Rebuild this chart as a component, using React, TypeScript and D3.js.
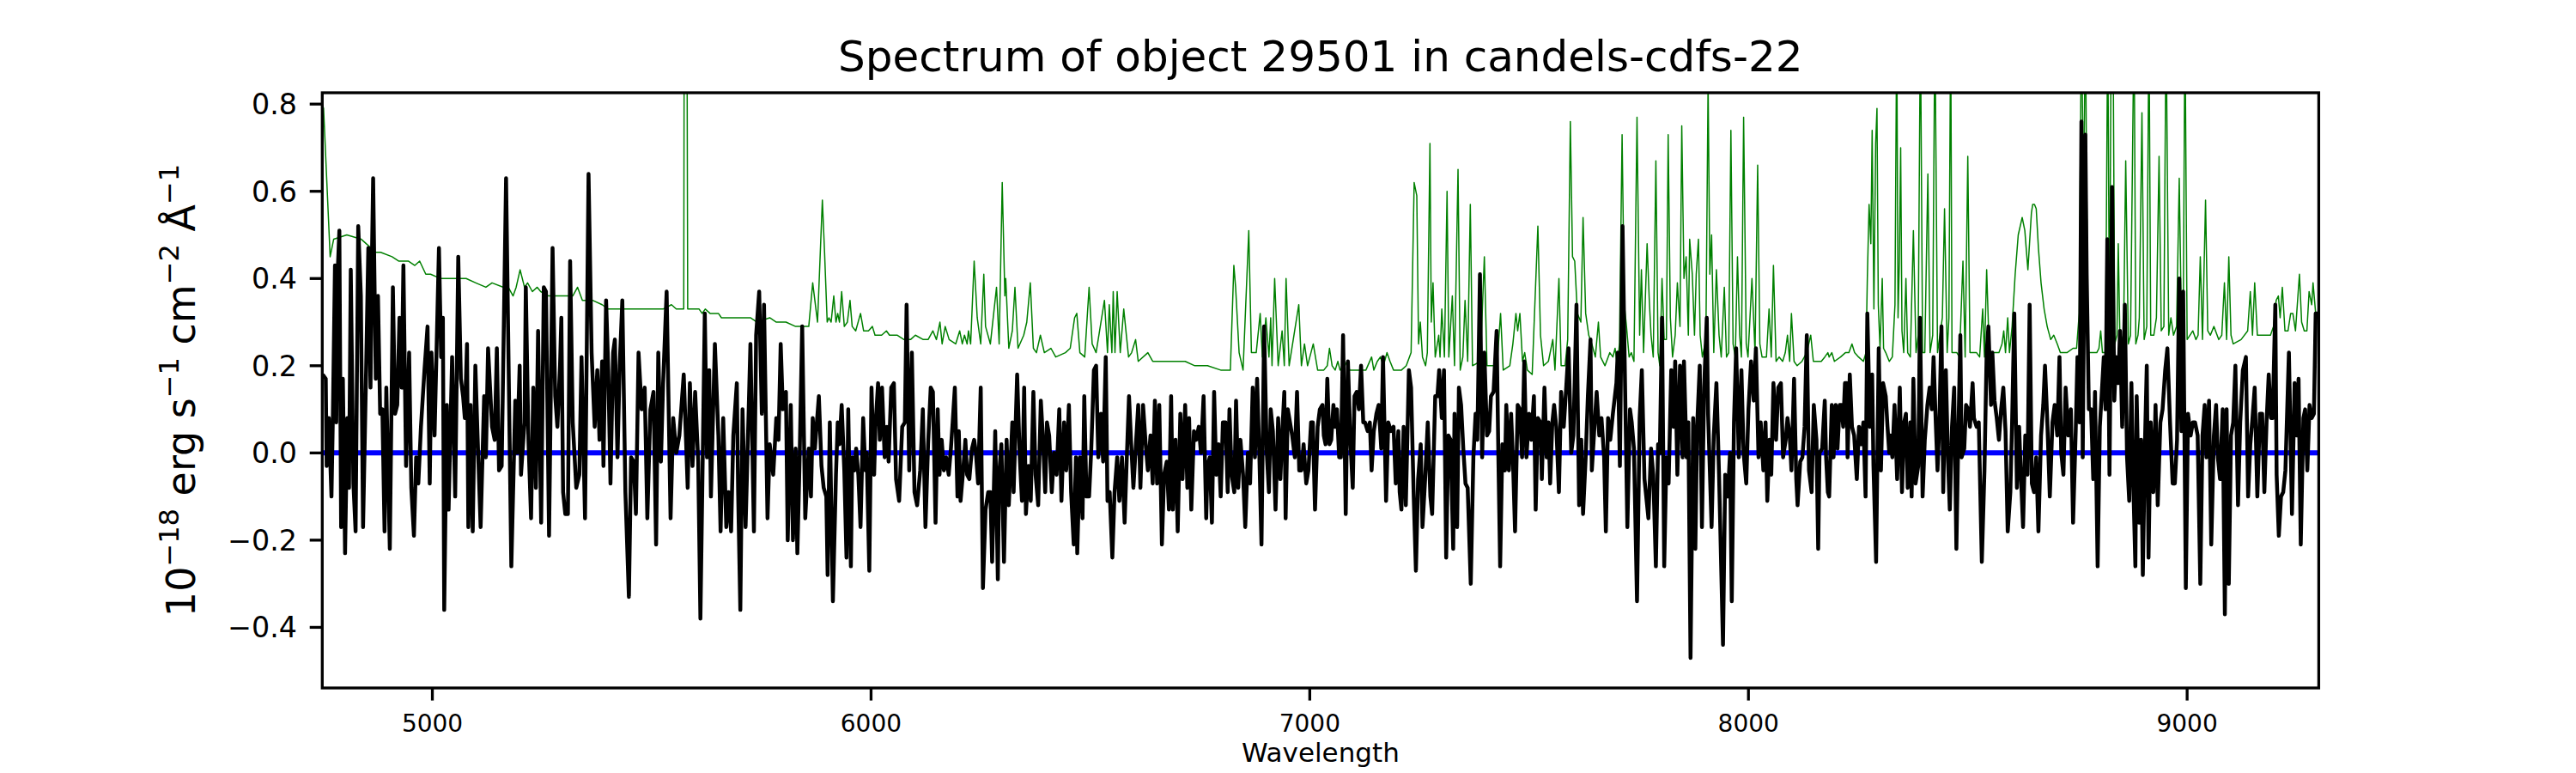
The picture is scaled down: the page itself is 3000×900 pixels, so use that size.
import React from "react";
import * as d3 from "d3";

// figure + axes geometry (pixels)
const W = 3000;
const H = 900;
const axLeft = 375.3;
const axRight = 2700.4;
const axTop = 108;
const axBottom = 801;

const xDomain: [number, number] = [4749, 9300];
const yDomain: [number, number] = [-0.539, 0.826];
const xTicks = [5000, 6000, 7000, 8000, 9000];
const yTicks = [-0.4, -0.2, 0.0, 0.2, 0.4, 0.6, 0.8];
const zeroLevel = 0;

const titleText = "Spectrum of object 29501 in candels-cdfs-22";
const xLabelText = "Wavelength";

// object flux (black), [wavelength, flux]
const objectFlux: [number, number][] = [
  [4750,.18],[4757,.17],[4759,-.03],[4764,.08],[4770,-.10],[4773,.07],[4778,.43],[4781,.07],[4784,.41],[4788,.51],
  [4792,-.17],[4796,.17],[4801,-.23],[4806,.08],[4810,-.08],[4814,.42],[4820,-.07],[4825,-.18],[4831,.52],[4837,.36],
  [4842,-.17],[4849,.19],[4854,.47],[4859,.15],[4862,.43],[4865,.63],[4871,.17],[4876,.36],[4881,.09],[4886,.10],
  [4891,-.18],[4895,.15],[4903,-.22],[4910,.38],[4915,.09],[4920,.11],[4925,.31],[4930,.15],[4934,.43],[4940,-.03],
  [4947,.23],[4952,-.08],[4958,-.19],[4963,-.01],[4968,-.07],[4974,.06],[4982,.19],[4989,.29],[4994,-.07],[4998,.23],
  [5005,.04],[5015,.47],[5020,.22],[5024,.31],[5027,-.36],[5033,.11],[5037,-.13],[5045,.22],[5052,-.10],[5059,.45],
  [5065,.17],[5070,.13],[5074,.08],[5079,.25],[5082,-.17],[5087,.11],[5092,-.18],[5098,.20],[5103,.04],[5110,-.17],
  [5118,.13],[5122,-.01],[5127,.24],[5136,.06],[5142,.03],[5147,.24],[5152,-.04],[5158,-.03],[5168,.63],[5180,-.26],
  [5189,.12],[5193,.00],[5199,.20],[5202,-.05],[5210,.07],[5213,.38],[5219,.03],[5225,-.15],[5230,.15],[5236,-.08],
  [5241,.28],[5248,-.16],[5254,.38],[5259,.37],[5266,-.19],[5274,.47],[5280,.13],[5285,.06],[5291,.20],[5294,.31],
  [5298,-.09],[5303,-.14],[5309,-.14],[5314,.44],[5320,.07],[5328,-.08],[5335,-.05],[5340,.22],[5348,-.15],[5356,.64],
  [5363,.23],[5370,.06],[5376,.19],[5381,.03],[5387,.21],[5390,-.03],[5396,.35],[5401,.19],[5406,-.07],[5412,.23],
  [5416,.26],[5422,-.01],[5427,.20],[5433,.35],[5440,-.09],[5448,-.33],[5453,-.01],[5459,-.02],[5464,-.14],[5470,.23],
  [5477,.10],[5484,.15],[5490,-.15],[5497,.10],[5504,.14],[5510,-.21],[5515,.23],[5521,-.02],[5526,.16],[5534,.37],
  [5543,-.15],[5549,.08],[5556,.00],[5563,.04],[5573,.18],[5582,-.08],[5587,.16],[5593,-.03],[5599,.14],[5606,-.02],
  [5611,-.38],[5621,.32],[5626,-.01],[5631,.19],[5635,-.10],[5644,.25],[5652,.04],[5657,-.18],[5663,.08],[5670,-.17],
  [5675,-.09],[5681,-.18],[5686,.04],[5694,.16],[5697,-.09],[5702,-.36],[5707,.10],[5714,-.17],[5725,.25],[5733,-.18],
  [5738,.27],[5745,.37],[5751,.09],[5756,.34],[5764,-.15],[5769,.02],[5777,-.05],[5784,.08],[5789,.03],[5794,.25],
  [5799,.10],[5806,.14],[5810,-.20],[5817,.11],[5822,-.20],[5828,.01],[5832,-.23],[5837,-.02],[5843,.29],[5850,-.15],
  [5858,.01],[5863,-.10],[5867,.08],[5872,.01],[5881,.13],[5887,-.03],[5892,-.08],[5898,-.10],[5901,-.28],[5906,.07],
  [5913,-.34],[5920,-.05],[5924,.07],[5928,.02],[5933,.11],[5939,-.04],[5944,-.24],[5948,.10],[5954,-.26],[5957,-.01],
  [5962,-.04],[5966,.01],[5971,-.05],[5976,-.17],[5982,.08],[5987,-.04],[5990,.00],[5996,-.27],[6001,.15],[6007,-.05],
  [6010,.06],[6016,.16],[6020,.03],[6025,.15],[6031,-.01],[6036,.06],[6040,-.02],[6046,.15],[6052,.16],[6057,-.06],
  [6064,-.11],[6071,.06],[6077,.07],[6081,.34],[6087,-.04],[6093,.23],[6099,-.09],[6105,-.12],[6112,-.04],[6118,.10],
  [6124,-.17],[6130,.02],[6136,.15],[6141,.14],[6147,-.16],[6152,.10],[6156,-.05],[6161,.03],[6166,-.04],[6171,-.01],
  [6177,-.05],[6182,.01],[6186,.07],[6191,.15],[6197,-.10],[6200,.05],[6204,-.11],[6210,-.04],[6215,.03],[6219,-.05],
  [6224,-.06],[6230,.01],[6235,.03],[6239,.00],[6244,-.07],[6250,.15],[6255,-.31],[6261,-.13],[6267,-.09],[6272,-.09],
  [6276,-.25],[6283,.05],[6289,-.29],[6292,-.05],[6297,.02],[6303,-.25],[6309,.03],[6314,-.12],[6322,.07],[6325,-.09],
  [6333,.18],[6339,-.01],[6344,-.11],[6349,.15],[6353,-.14],[6359,-.03],[6364,-.11],[6370,.14],[6375,-.05],[6381,-.12],
  [6387,.12],[6392,.03],[6397,-.09],[6401,.07],[6406,.04],[6412,-.09],[6417,.00],[6423,-.05],[6429,.10],[6434,-.11],
  [6440,.07],[6445,-.04],[6451,.11],[6456,-.09],[6462,-.21],[6467,-.01],[6470,-.23],[6476,-.01],[6482,-.15],[6486,.13],
  [6491,-.10],[6497,-.10],[6502,.01],[6508,.19],[6513,.20],[6518,-.01],[6524,.09],[6529,-.02],[6535,.22],[6539,-.11],
  [6544,-.09],[6550,-.24],[6555,-.09],[6561,-.01],[6566,-.11],[6572,-.01],[6578,-.16],[6583,-.01],[6588,.13],[6593,.02],
  [6598,-.08],[6609,.11],[6614,-.08],[6620,.11],[6626,.02],[6631,-.04],[6637,.04],[6642,-.07],[6647,.12],[6652,-.07],
  [6657,.11],[6663,-.21],[6668,-.05],[6674,-.02],[6679,-.13],[6684,.13],[6688,-.13],[6694,.03],[6699,-.18],[6705,.09],
  [6710,-.06],[6716,.11],[6721,-.08],[6725,.08],[6730,-.13],[6736,.05],[6741,.03],[6747,.06],[6752,.00],[6758,.13],
  [6764,-.15],[6767,-.03],[6772,-.01],[6777,-.16],[6782,.14],[6787,-.05],[6792,.02],[6797,-.10],[6802,.07],[6808,.07],
  [6813,-.09],[6817,.10],[6822,-.05],[6828,-.09],[6832,.12],[6837,-.08],[6842,.03],[6848,-.05],[6853,-.17],[6859,.00],
  [6864,-.07],[6870,.15],[6875,-.01],[6880,.17],[6885,.00],[6890,-.21],[6896,.29],[6902,.00],[6907,-.09],[6911,.10],
  [6916,.05],[6922,-.13],[6928,.08],[6933,-.06],[6938,.06],[6942,.14],[6945,-.15],[6950,.10],[6955,.07],[6960,.04],
  [6966,-.01],[6971,.14],[6976,-.04],[6981,-.04],[6986,.02],[6992,-.07],[6997,-.04],[7003,.07],[7007,.07],[7012,-.13],
  [7018,.06],[7023,.10],[7029,.11],[7032,.04],[7036,.02],[7040,.17],[7045,.02],[7049,.03],[7054,.11],[7058,.06],
  [7062,.10],[7067,-.01],[7071,-.01],[7076,.27],[7080,.00],[7082,-.14],[7087,.21],[7093,.02],[7098,-.08],[7102,.13],
  [7107,.14],[7112,.10],[7117,.20],[7122,.07],[7126,.07],[7132,.05],[7137,.07],[7141,-.04],[7146,.05],[7152,.09],
  [7157,.11],[7163,.01],[7167,.22],[7174,-.11],[7179,.07],[7185,.05],[7191,.06],[7196,-.07],[7202,.05],[7205,-.09],
  [7209,-.13],[7214,.06],[7219,-.12],[7226,.19],[7231,.15],[7237,-.10],[7242,-.27],[7247,-.06],[7253,.02],[7257,-.17],
  [7263,-.06],[7269,.07],[7275,-.10],[7279,-.14],[7286,.13],[7291,.13],[7295,.19],[7301,.08],[7306,.19],[7311,-.24],
  [7316,.04],[7321,.03],[7327,-.22],[7330,.09],[7336,-.17],[7340,.15],[7345,.11],[7350,.01],[7355,-.07],[7360,-.08],
  [7367,-.30],[7373,-.01],[7378,.09],[7382,.03],[7388,.41],[7393,-.01],[7398,.23],[7404,.04],[7409,.05],[7413,.13],
  [7419,.14],[7426,.28],[7430,-.01],[7434,-.26],[7439,.02],[7445,-.04],[7448,.11],[7454,-.04],[7459,.09],[7463,-.01],
  [7468,-.18],[7474,.11],[7479,.10],[7484,-.01],[7489,.21],[7494,-.01],[7500,.09],[7505,.03],[7511,.13],[7515,-.13],
  [7520,.08],[7526,.07],[7529,-.06],[7535,.15],[7540,-.01],[7544,.07],[7548,-.07],[7553,.07],[7557,.11],[7562,.06],
  [7568,-.09],[7573,.14],[7579,.06],[7584,.14],[7590,.24],[7596,.00],[7601,.04],[7608,.34],[7614,-.12],[7619,.03],
  [7623,-.14],[7629,-.01],[7634,.13],[7640,.26],[7643,-.04],[7649,.06],[7654,.14],[7660,.04],[7665,.08],[7671,-.01],
  [7675,-.18],[7680,.08],[7685,.03],[7691,.09],[7699,.16],[7702,.23],[7707,-.03],[7713,.52],[7719,.14],[7724,-.17],
  [7730,.10],[7734,.07],[7739,.01],[7746,-.34],[7752,.08],[7757,.19],[7763,-.06],[7772,-.15],[7778,.01],[7783,-.05],
  [7789,-.26],[7794,.02],[7798,.00],[7803,.31],[7808,-.26],[7813,-.01],[7818,-.07],[7824,.19],[7829,.06],[7833,.21],
  [7838,-.05],[7844,.20],[7850,-.01],[7853,.21],[7859,-.01],[7863,.07],[7868,-.47],[7874,.08],[7879,-.22],[7883,.06],
  [7889,.20],[7894,-.17],[7899,.15],[7905,.31],[7908,.09],[7916,-.17],[7921,.04],[7927,.16],[7933,-.05],[7942,-.44],
  [7947,-.05],[7953,-.10],[7958,.00],[7962,-.34],[7967,.07],[7972,.24],[7978,-.01],[7984,.19],[7989,.00],[7995,-.07],
  [8000,.10],[8006,.21],[8012,.12],[8017,.24],[8023,-.01],[8028,.07],[8034,-.04],[8039,.07],[8043,-.11],[8048,.03],
  [8052,-.05],[8057,.16],[8063,.03],[8068,.15],[8074,.16],[8079,-.01],[8085,.03],[8089,.08],[8094,.04],[8098,-.04],
  [8104,.17],[8109,-.06],[8112,-.12],[8118,-.02],[8123,-.01],[8128,.06],[8133,.27],[8138,-.04],[8144,-.09],[8149,.11],
  [8155,.03],[8159,-.22],[8162,.00],[8168,.01],[8174,.12],[8177,-.01],[8181,-.09],[8184,-.10],[8190,.11],[8194,-.01],
  [8199,.11],[8203,.01],[8208,.11],[8212,.11],[8216,.06],[8220,.16],[8224,.16],[8226,-.01],[8231,.18],[8236,.06],
  [8241,.04],[8247,-.06],[8252,.06],[8257,.02],[8262,.07],[8267,-.10],[8271,.32],[8277,.06],[8282,.18],[8285,-.03],
  [8291,-.25],[8297,.24],[8302,-.04],[8307,.16],[8313,.13],[8317,.06],[8321,.00],[8324,.04],[8328,-.01],[8333,.11],
  [8339,-.06],[8345,.15],[8350,-.09],[8355,.07],[8359,.09],[8363,-.08],[8369,.07],[8372,-.10],[8376,.17],[8381,-.07],
  [8387,-.03],[8391,.31],[8397,-.10],[8402,.03],[8408,.11],[8413,.15],[8418,.10],[8422,.22],[8427,.07],[8431,-.04],
  [8435,.06],[8440,.29],[8444,-.09],[8450,.19],[8455,-.02],[8459,-.13],[8464,.06],[8469,.15],[8474,-.22],[8479,.07],
  [8483,.27],[8486,-.01],[8492,.01],[8496,.11],[8501,.10],[8505,.06],[8511,.16],[8514,.08],[8520,.06],[8525,.07],
  [8532,-.25],[8538,-.04],[8543,.23],[8547,.29],[8553,.11],[8556,.23],[8561,.12],[8566,.08],[8571,.03],[8576,.10],
  [8581,.15],[8586,.05],[8591,-.18],[8597,-.09],[8601,.07],[8606,.32],[8612,-.08],[8617,.06],[8621,-.05],[8626,-.17],
  [8631,.04],[8636,-.05],[8641,.34],[8646,-.07],[8651,-.09],[8656,-.01],[8661,-.18],[8667,.04],[8672,.11],[8676,.20],
  [8681,.08],[8687,-.10],[8693,.07],[8698,.11],[8704,.04],[8709,.22],[8713,.00],[8718,-.05],[8723,.15],[8729,.04],
  [8735,.10],[8740,-.16],[8746,.05],[8750,.22],[8755,.07],[8759,.76],[8762,-.01],[8768,.73],[8771,.41],[8776,.10],
  [8781,.10],[8786,-.06],[8790,.14],[8796,-.26],[8801,.06],[8805,.13],[8810,.22],[8814,.10],[8818,.49],[8823,-.05],
  [8829,.61],[8834,.12],[8838,.22],[8843,.16],[8847,.28],[8852,.06],[8858,.34],[8863,-.01],[8868,-.11],[8873,.16],
  [8877,-.06],[8882,-.26],[8885,.13],[8891,-.16],[8895,.03],[8899,-.28],[8904,.03],[8908,.20],[8912,-.24],[8917,.07],
  [8923,-.09],[8928,.11],[8933,-.12],[8939,.07],[8944,.10],[8950,.19],[8955,.24],[8961,.07],[8967,-.07],[8972,-.07],
  [8977,.03],[8982,.40],[8987,.05],[8991,.37],[8997,-.31],[9002,.09],[9008,.04],[9013,.07],[9018,.07],[9024,.04],
  [9030,-.30],[9035,.04],[9040,.11],[9044,-.01],[9050,.12],[9055,-.21],[9061,.04],[9066,.11],[9070,-.01],[9075,-.06],
  [9081,.10],[9086,-.37],[9090,.10],[9095,-.30],[9100,.04],[9105,.07],[9110,.20],[9116,-.12],[9121,.07],[9127,.19],
  [9134,.22],[9139,-.10],[9144,.02],[9149,.08],[9154,.15],[9160,-.10],[9166,.09],[9171,.09],[9176,-.09],[9181,.07],
  [9186,.18],[9191,.08],[9195,.08],[9201,.34],[9204,-.05],[9209,-.19],[9214,-.10],[9219,-.09],[9224,-.04],[9232,.23],
  [9239,-.14],[9245,.16],[9250,.04],[9254,.17],[9259,-.21],[9265,.08],[9269,.10],[9274,-.04],[9279,.11],[9284,.08],
  [9289,.09],[9293,.32],[9299,.32],
];

// noise / sky spectrum (green), [wavelength, flux]
const noiseFlux: [number, number][] = [
  [4749,.80],[4752,.79],[4767,.45],[4775,.49],[4805,.50],[4838,.49],[4849,.48],[4871,.46],[4882,.46],[4908,.45],
  [4923,.44],[4945,.44],[4960,.43],[4971,.44],[4985,.41],[4996,.41],[5018,.40],[5048,.40],[5077,.40],[5099,.39],
  [5122,.38],[5136,.39],[5162,.38],[5173,.38],[5184,.36],[5191,.38],[5200,.42],[5210,.38],[5217,.39],[5228,.37],
  [5239,.38],[5247,.37],[5265,.36],[5284,.36],[5306,.36],[5320,.36],[5331,.38],[5342,.35],[5365,.35],[5387,.34],
  [5401,.33],[5423,.33],[5445,.33],[5475,.33],[5526,.33],[5545,.34],[5556,.33],[5573,.33],[5575,1.6],[5579,1.6],
  [5582,.33],[5593,.33],[5608,.33],[5615,.32],[5622,.33],[5633,.32],[5652,.32],[5659,.31],[5681,.31],[5711,.31],
  [5725,.31],[5740,.30],[5769,.31],[5784,.30],[5806,.30],[5828,.29],[5858,.29],[5867,.39],[5878,.30],[5889,.58],
  [5894,.46],[5900,.30],[5904,.31],[5909,.30],[5915,.36],[5920,.30],[5924,.32],[5928,.30],[5933,.37],[5939,.29],
  [5946,.30],[5952,.35],[5957,.29],[5965,.28],[5976,.32],[5983,.28],[5994,.28],[6003,.29],[6009,.27],[6024,.27],
  [6035,.28],[6042,.27],[6060,.27],[6075,.26],[6090,.26],[6101,.27],[6119,.26],[6130,.26],[6141,.28],[6149,.26],
  [6157,.30],[6162,.25],[6169,.29],[6178,.26],[6193,.25],[6202,.28],[6208,.25],[6213,.27],[6219,.25],[6222,.28],
  [6227,.25],[6235,.44],[6242,.31],[6250,.25],[6257,.41],[6261,.29],[6272,.25],[6286,.38],[6292,.25],[6299,.62],
  [6305,.36],[6307,.40],[6314,.24],[6322,.28],[6328,.38],[6335,.24],[6348,.27],[6355,.30],[6363,.39],[6370,.24],
  [6377,.23],[6386,.27],[6395,.23],[6410,.24],[6421,.22],[6443,.23],[6454,.24],[6464,.31],[6469,.32],[6476,.23],
  [6487,.22],[6497,.38],[6504,.25],[6513,.23],[6532,.35],[6539,.23],[6543,.34],[6549,.23],[6552,.37],[6556,.23],
  [6561,.37],[6568,.23],[6576,.33],[6587,.22],[6594,.23],[6603,.26],[6609,.21],[6631,.23],[6642,.21],[6664,.21],
  [6679,.21],[6694,.21],[6716,.21],[6738,.20],[6767,.20],[6797,.19],[6819,.19],[6827,.43],[6831,.38],[6839,.23],
  [6848,.19],[6861,.51],[6867,.23],[6878,.23],[6887,.32],[6892,.22],[6900,.31],[6907,.22],[6911,.31],[6914,.20],
  [6920,.40],[6928,.20],[6937,.28],[6942,.20],[6946,.40],[6953,.20],[6975,.34],[6981,.20],[6988,.25],[6995,.20],
  [7008,.25],[7018,.19],[7032,.19],[7040,.20],[7045,.24],[7051,.20],[7058,.19],[7064,.21],[7069,.19],[7080,.20],
  [7085,.21],[7091,.19],[7113,.19],[7121,.19],[7128,.19],[7141,.22],[7146,.19],[7154,.21],[7161,.22],[7168,.20],
  [7176,.23],[7183,.21],[7191,.19],[7209,.19],[7220,.20],[7231,.23],[7238,.62],[7244,.59],[7248,.25],[7252,.30],
  [7257,.22],[7264,.20],[7268,.23],[7274,.71],[7277,.30],[7281,.39],[7286,.22],[7294,.27],[7297,.22],[7301,.33],
  [7307,.22],[7313,.60],[7317,.22],[7325,.36],[7330,.20],[7338,.65],[7343,.19],[7349,.22],[7354,.35],[7360,.21],
  [7366,.57],[7371,.20],[7389,.21],[7398,.45],[7404,.20],[7419,.20],[7426,.19],[7435,.32],[7441,.19],[7456,.20],
  [7463,.25],[7470,.32],[7474,.28],[7479,.32],[7485,.21],[7490,.23],[7496,.19],[7507,.18],[7520,.52],[7526,.27],
  [7533,.20],[7544,.21],[7554,.26],[7559,.19],[7568,.40],[7573,.20],[7582,.20],[7588,.26],[7594,.76],[7599,.45],
  [7604,.44],[7610,.32],[7618,.30],[7623,.54],[7629,.32],[7636,.27],[7643,.25],[7651,.22],[7658,.30],[7663,.22],
  [7673,.20],[7684,.23],[7691,.22],[7696,.24],[7701,.20],[7706,.25],[7712,.73],[7717,.34],[7722,.29],[7728,.22],
  [7733,.23],[7739,.21],[7746,.77],[7752,.27],[7756,.42],[7761,.23],[7769,.48],[7774,.35],[7778,.27],[7783,.22],
  [7789,.67],[7794,.23],[7798,.20],[7803,.40],[7808,.26],[7813,.26],[7817,.73],[7822,.31],[7827,.22],[7833,.27],
  [7838,.39],[7844,.29],[7848,.75],[7853,.40],[7858,.45],[7863,.27],[7866,.49],[7872,.41],[7877,.27],[7881,.41],
  [7886,.49],[7890,.27],[7895,.22],[7903,.26],[7908,.85],[7912,.41],[7916,.50],[7921,.23],[7927,.42],[7933,.27],
  [7938,.22],[7945,.38],[7950,.22],[7955,.23],[7960,.74],[7965,.25],[7970,.22],[7975,.45],[7980,.27],[7984,.22],
  [7989,.77],[7995,.25],[7999,.22],[8008,.40],[8015,.23],[8021,.66],[8026,.25],[8031,.22],[8041,.22],[8047,.33],
  [8052,.22],[8057,.43],[8063,.21],[8070,.22],[8078,.21],[8084,.23],[8089,.27],[8094,.21],[8098,.32],[8104,.21],
  [8111,.20],[8122,.21],[8133,.23],[8142,.27],[8148,.21],[8155,.21],[8166,.21],[8174,.22],[8181,.23],[8184,.22],
  [8190,.23],[8196,.21],[8210,.22],[8221,.23],[8229,.23],[8236,.25],[8242,.23],[8251,.22],[8262,.21],[8268,.23],
  [8271,.40],[8275,.57],[8279,.48],[8282,.74],[8286,.33],[8290,.71],[8293,.79],[8296,.34],[8300,.24],[8305,.40],
  [8308,.24],[8313,.23],[8321,.21],[8328,.22],[8334,.34],[8338,1.0],[8341,.31],[8344,.44],[8347,.70],[8350,.28],
  [8354,.23],[8359,.40],[8363,.23],[8369,.22],[8376,.51],[8382,.23],[8387,.27],[8392,1.0],[8397,.23],[8402,.23],
  [8409,.64],[8414,.23],[8420,.27],[8425,1.0],[8431,.23],[8442,.31],[8447,.56],[8453,.23],[8457,.31],[8461,1.0],
  [8464,.23],[8475,.23],[8481,.22],[8489,.44],[8494,.22],[8500,.68],[8505,.23],[8520,.23],[8527,.22],[8534,.33],
  [8538,.22],[8543,.42],[8549,.23],[8564,.23],[8571,.23],[8578,.25],[8582,.28],[8586,.23],[8591,.31],[8595,.23],
  [8601,.29],[8608,.41],[8615,.50],[8624,.54],[8630,.51],[8637,.42],[8645,.55],[8648,.57],[8652,.57],[8656,.56],
  [8661,.47],[8667,.39],[8674,.33],[8681,.29],[8689,.26],[8696,.27],[8704,.25],[8711,.23],[8726,.23],[8740,.24],
  [8748,.24],[8754,.32],[8759,1.0],[8764,.57],[8768,1.0],[8774,.23],[8788,.23],[8794,.23],[8799,.24],[8803,.28],
  [8807,.23],[8814,.23],[8819,1.0],[8823,.26],[8827,1.0],[8831,1.0],[8835,.25],[8840,.27],[8843,.48],[8847,.25],
  [8855,.27],[8860,.67],[8866,.25],[8871,.27],[8879,1.0],[8883,.25],[8888,.27],[8891,.31],[8897,.78],[8902,.26],
  [8908,.29],[8913,1.0],[8917,.27],[8924,.27],[8930,.31],[8936,.68],[8941,.28],[8947,.29],[8952,1.0],[8958,.27],
  [8963,.31],[8969,.27],[8976,.29],[8982,.63],[8987,.29],[8991,.27],[8995,1.0],[9000,.26],[9013,.28],[9020,.26],
  [9025,.27],[9030,.45],[9035,.26],[9042,.58],[9047,.28],[9053,.27],[9061,.29],[9072,.26],[9079,.27],[9085,.39],
  [9090,.26],[9095,.45],[9100,.27],[9105,.25],[9123,.26],[9138,.28],[9144,.37],[9149,.27],[9154,.39],[9160,.27],
  [9178,.27],[9190,.27],[9197,.29],[9203,.35],[9208,.36],[9212,.31],[9217,.38],[9223,.28],[9230,.28],[9236,.32],
  [9241,.32],[9247,.28],[9256,.41],[9261,.30],[9267,.28],[9273,.28],[9278,.37],[9284,.34],[9287,.39],[9293,.32],
  [9300,.32],
];

const FONT = "DejaVu Sans";

export default function App() {
  const x = d3.scaleLinear().domain(xDomain).range([axLeft, axRight]);
  const y = d3.scaleLinear().domain(yDomain).range([axBottom, axTop]);
  const line = d3
    .line<[number, number]>()
    .x((d) => x(d[0]))
    .y((d) => y(d[1]));
  const fmt = d3.format(".1f");
  const tickLen = 14.6;
  const midX = (axLeft + axRight) / 2;
  const midY = (axTop + axBottom) / 2;

  return (
    <svg
      width={W}
      height={H}
      viewBox={`0 0 ${W} ${H}`}
      style={{ position: "absolute", left: 0, top: 0, background: "#fff" }}
      fontFamily={FONT}
    >
      <rect x={0} y={0} width={W} height={H} fill="#fff" />
      <defs>
        <clipPath id="plotArea">
          <rect x={axLeft} y={axTop} width={axRight - axLeft} height={axBottom - axTop} />
        </clipPath>
      </defs>

      <g clipPath="url(#plotArea)">
        <path d={line(noiseFlux) || ""} fill="none" stroke="#008000" strokeWidth={1.5} strokeLinejoin="round" />
        <line
          x1={x(xDomain[0])}
          x2={x(xDomain[1])}
          y1={y(zeroLevel)}
          y2={y(zeroLevel)}
          stroke="#0000ff"
          strokeWidth={6}
        />
        <path d={line(objectFlux) || ""} fill="none" stroke="#000" strokeWidth={4.5} strokeLinejoin="round" />
      </g>

      {/* spines */}
      <rect
        x={axLeft}
        y={axTop}
        width={axRight - axLeft}
        height={axBottom - axTop}
        fill="none"
        stroke="#000"
        strokeWidth={3.3}
      />

      {/* x ticks */}
      {xTicks.map((t) => (
        <g key={`xt${t}`}>
          <line x1={x(t)} x2={x(t)} y1={axBottom} y2={axBottom + tickLen} stroke="#000" strokeWidth={3.3} />
          <text x={x(t)} y={852} fontSize={28} textAnchor="middle" fill="#000">
            {t}
          </text>
        </g>
      ))}

      {/* y ticks */}
      {yTicks.map((t) => (
        <g key={`yt${t}`}>
          <line x1={axLeft - tickLen} x2={axLeft} y1={y(t)} y2={y(t)} stroke="#000" strokeWidth={3.3} />
          <text x={346} y={y(t)} dy="0.36em" fontSize={33.3} textAnchor="end" fill="#000">
            {fmt(t)}
          </text>
        </g>
      ))}

      <text x={midX} y={83} fontSize={50} textAnchor="middle" fill="#000">
        {titleText}
      </text>

      <text x={midX} y={887} fontSize={31} textAnchor="middle" fill="#000">
        {xLabelText}
      </text>

      <text
        transform={`translate(227,${midY}) rotate(-90)`}
        fontSize={46}
        textAnchor="middle"
        fill="#000"
      >
        <tspan>10</tspan>
        <tspan fontSize={32} dy={-19}>−18</tspan>
        <tspan dy={19}> erg s</tspan>
        <tspan fontSize={32} dy={-19}>−1</tspan>
        <tspan dy={19}> cm</tspan>
        <tspan fontSize={32} dy={-19}>−2</tspan>
        <tspan dy={19}> Å</tspan>
        <tspan fontSize={32} dy={-19}>−1</tspan>
      </text>
    </svg>
  );
}
